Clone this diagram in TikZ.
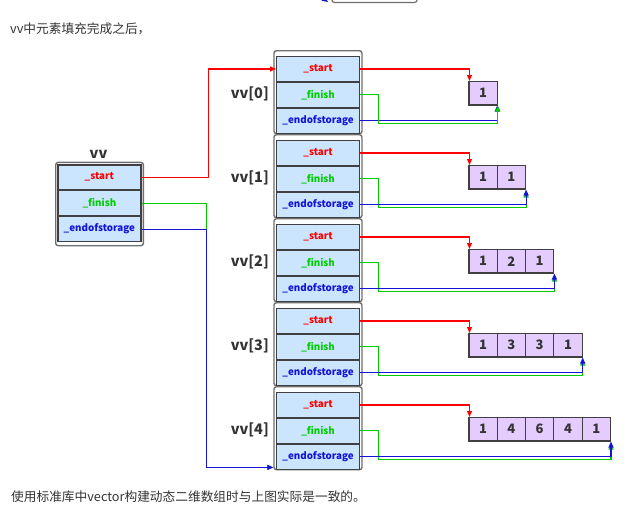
\documentclass[tikz,border=0pt]{standalone}
\usepackage{fontspec}
\setmainfont{Noto Sans CJK SC}
\usetikzlibrary{arrows.meta,calc}
\definecolor{cellblue}{RGB}{204,229,255}
\definecolor{cellpurple}{RGB}{229,204,255}
\definecolor{lred}{RGB}{255,0,0}
\definecolor{lgreen}{RGB}{0,204,0}
\definecolor{lblue}{RGB}{20,20,215}
\definecolor{txt}{RGB}{51,51,51}
\definecolor{framec}{RGB}{110,110,110}
\definecolor{cellborder}{RGB}{64,64,64}
\begin{document}
\begin{tikzpicture}[x=1pt,y=-1pt,
 outerbox/.style={draw=framec, line width=1.4pt, rounded corners=2.5pt, fill=white, minimum width=88pt, minimum height=83pt, anchor=north west, inner sep=0pt},
 cell/.style={draw=cellborder, line width=1.2pt, fill=cellblue, minimum width=83pt, minimum height=24.7pt, anchor=north west, inner sep=0pt, font=\bfseries\fontsize{9.8}{12}\selectfont},
 acell/.style={draw=cellborder, line width=1.2pt, fill=cellpurple, minimum width=28.3pt, minimum height=23.3pt, anchor=north west, inner sep=0pt, font=\bfseries\fontsize{13}{15}\selectfont, text=txt},
 lab/.style={font=\bfseries\fontsize{14.5}{18}\selectfont, text=txt, inner sep=0pt},
 para/.style={font=\fontsize{12.7}{15}\selectfont, text=txt, inner sep=0pt, anchor=west},
 tip/.style={-{Triangle[length=6pt,width=5pt]}},
 rline/.style={draw=lred, line width=1.1pt, tip},
 gline/.style={draw=lgreen, line width=1.1pt, tip},
 bline/.style={draw=lblue, line width=1.1pt, tip}
]
\useasboundingbox (0,0) rectangle (634,507);

% cropped fragment at the top
\begin{scope}
\clip (0,0) rectangle (634,507);
\draw[framec, line width=1.2pt, rounded corners=2.5pt] (332,-30) rectangle (417,2.5);
\coordinate (topA) at (318,-5);
\coordinate (topB) at (328,2);
\draw[bline] (topA) -- (topB);
\end{scope}

% texts
\node[para] (title) at (10,29) {vv中元素填充完成之后，};
\node[para] (note) at (11,497) {使用标准库中vector构建动态二维数组时与上图实际是一致的。};

% left vv box
\node[outerbox, minimum width=87.7pt, minimum height=83.3pt] (vbox) at (55,161.7) {};
\node[lab] (vlab) at (98.5,154) {vv};
\node[cell, text=lred] (vs) at (57.3,164.3) {\_start};
\node[cell, text=lgreen] (vf) at (vs.south west) {\_finish};
\node[cell, text=lblue] (ve) at (vf.south west) {\_endofstorage};

% vv[i] boxes
\foreach \i in {0,...,4}{
  \pgfmathsetmacro\yo{50+84*\i}
  \node[outerbox] (box\i) at (273.3,\yo) {};
  \node[cell, text=lred] (s\i) at (276,\yo+6) {\_start};
  \node[cell, text=lgreen] (f\i) at (s\i.south west) {\_finish};
  \node[cell, text=lblue] (e\i) at (f\i.south west) {\_endofstorage};
  \node[lab, anchor=east] (lbl\i) at (269,\yo+44) {vv[\i]};
}

% arrays
\foreach \i/\vals in {0/{1},1/{1,1},2/{1,2,1},3/{1,3,3,1},4/{1,4,6,4,1}}{
  \pgfmathsetmacro\yo{50+84*\i}
  \foreach \v [count=\k] in \vals {
    \node[acell] (a\i-\k) at (468.3+28.3*\k-28.3,\yo+31) {\v};
  }
}

% connectors from vv
\coordinate (jr) at (208.3,0);
\coordinate (jg) at (206.3,0);
\coordinate (jb) at (206.8,0);
\coordinate (end4) at ($(box4.south west)+(0,-3)$);
\draw[rline] (vs.east) -- (vs.east -| jr) |- (s0.west);
\draw[gline] (vf.east) -- (vf.east -| jg) |- (end4);
\draw[bline] (ve.east) -- (ve.east -| jb) |- (end4);

% connectors of each row
\foreach \i in {0,...,4}{
  \pgfmathtruncatemacro\n{\i+1}
  \draw[rline] (s\i.east) -| ($(a\i-1.north west)+(1.2,0)$);
  \ifnum\i=0
    \draw[bline] (e\i.east) -| ($(a\i-\n.south east)+(-0.6,0)$);
    \draw[gline] (f\i.east) -| ($(f\i.east)+(18,29)$) -| (a\i-\n.south east);
  \else
    \draw[gline] (f\i.east) -| ($(f\i.east)+(18,29)$) -| ($(a\i-\n.south east)+(0,2)$);
    \draw[bline] (e\i.east) -| (a\i-\n.south east);
  \fi
}
\end{tikzpicture}
\end{document}
